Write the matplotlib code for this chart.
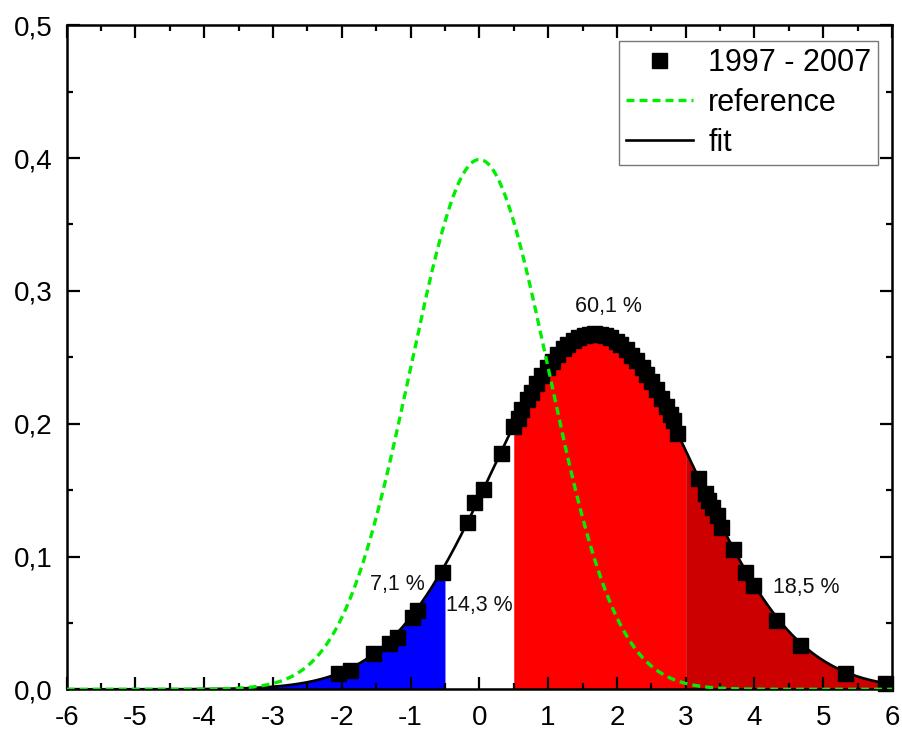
import numpy as np
import matplotlib
matplotlib.use("Agg")
import matplotlib.pyplot as plt
from matplotlib.ticker import MultipleLocator, FuncFormatter
from matplotlib.lines import Line2D

plt.rcParams['font.family'] = ['Liberation Sans', 'DejaVu Sans']

# ---- data ----
data_x = [-2.05, -1.88, -1.54, -1.32, -1.20, -0.98, -0.91, -0.55, -0.18, -0.08,
          0.05, 0.32, 0.49, 0.56,
          0.61, 0.69, 0.75, 0.83, 0.90, 0.98, 1.05, 1.13, 1.21, 1.28, 1.36,
          1.44, 1.52, 1.59, 1.67, 1.75, 1.82, 1.90, 1.98, 2.05, 2.13, 2.21,
          2.28, 2.36, 2.43, 2.50, 2.57, 2.64, 2.71, 2.77, 2.82,
          2.87, 3.18, 3.28, 3.33, 3.38, 3.45, 3.52, 3.69, 3.86, 3.98, 4.32,
          4.66, 5.32, 5.90]
data_y = [0.0120, 0.0145, 0.0270, 0.0347, 0.0397, 0.0547, 0.0598, 0.0886, 0.1260, 0.1410,
          0.1510, 0.1780, 0.1980, 0.2040,
          0.2107, 0.2184, 0.2239, 0.2308, 0.2365, 0.2425, 0.2474, 0.2524, 0.2567, 0.2600, 0.2630,
          0.2654, 0.2670, 0.2678, 0.2680, 0.2676, 0.2667, 0.2650, 0.2626, 0.2600, 0.2562, 0.2520,
          0.2478, 0.2424, 0.2372, 0.2318, 0.2258, 0.2196, 0.2132, 0.2075, 0.2025,
          0.1930, 0.1590, 0.1480, 0.1427, 0.1376, 0.1310, 0.1225, 0.1060, 0.0886, 0.0786, 0.0520,
          0.0334, 0.0120, 0.0045]

ref_mean = 0.0
ref_sd = 1.0

region_bounds = [-6.0, -0.5, 0.5, 3.0, 6.0]
region_colors = ['#0000ff', None, '#ff0000', '#cc0000']

pct_labels = ['7,1 %', '14,3 %', '60,1 %', '18,5 %']
pct_pos_x = [-1.19, 0.0, 1.88, 4.76]
pct_pos_y = [0.0787, 0.0628, 0.288, 0.0767]

legend_labels = ['1997 - 2007', 'reference', 'fit']

# ---- fit: gaussian from data (weighted quadratic fit of log y) ----
dx = np.array(data_x)
dy = np.array(data_y)
c2, c1, c0 = np.polyfit(dx, np.log(dy), 2, w=dy)
fit_sd = np.sqrt(-1.0 / (2 * c2))
fit_mu = c1 * fit_sd ** 2
fit_amp = np.exp(c0 + fit_mu ** 2 / (2 * fit_sd ** 2))

xs = np.linspace(-6, 6, 2401)
fit_y = fit_amp * np.exp(-(xs - fit_mu) ** 2 / (2 * fit_sd ** 2))
ref_y = np.exp(-(xs - ref_mean) ** 2 / (2 * ref_sd ** 2)) / (ref_sd * np.sqrt(2 * np.pi))

W, H = 903, 733
fig = plt.figure(figsize=(W / 100, H / 100), dpi=100)
L, R, T, B = 66.7, 892.0, 25.3, 689.3
ax = fig.add_axes([L / W, 1 - B / H, (R - L) / W, (B - T) / H])

GREEN = '#00ee00'
DASH = (2.4, 1.5)

# fills
for i, col in enumerate(region_colors):
    if col is None:
        continue
    lo, hi = region_bounds[i], region_bounds[i + 1]
    m = (xs >= lo) & (xs <= hi)
    ax.fill_between(xs[m], 0, fit_y[m], color=col, linewidth=0, zorder=1)

ax.plot(dx, dy, 's', color='black', markersize=10.8, zorder=3, clip_on=False)
ax.plot(xs, fit_y, '-', color='black', lw=1.9, zorder=4)
ref_line, = ax.plot(xs, ref_y, '--', color=GREEN, lw=2.4, zorder=5)
ref_line.set_dashes(DASH)

for t, px, py in zip(pct_labels, pct_pos_x, pct_pos_y):
    ax.text(px, py, t, ha='center', va='center', fontsize=15.5, color='#111111', zorder=6)

ax.set_xlim(-6, 6)
ax.set_ylim(0, 0.5)
ax.xaxis.set_major_locator(MultipleLocator(1))
ax.xaxis.set_minor_locator(MultipleLocator(0.5))
ax.yaxis.set_major_locator(MultipleLocator(0.1))
ax.yaxis.set_minor_locator(MultipleLocator(0.05))
ax.xaxis.set_major_formatter(FuncFormatter(lambda v, p: f"{int(round(v))}"))
ax.yaxis.set_major_formatter(FuncFormatter(lambda v, p: f"{v:.1f}".replace('.', ',')))
ax.tick_params(which='both', direction='in', top=True, right=True, width=1.6, labelsize=20)
ax.tick_params(which='major', length=9)
ax.tick_params(which='minor', length=4.5)
ax.tick_params(axis='x', which='major', pad=11)
ax.tick_params(axis='y', which='major', pad=10)
for s in ax.spines.values():
    s.set_linewidth(1.8)

handles = [
    Line2D([], [], marker='s', color='black', linestyle='none', markersize=10.8),
    Line2D([], [], color=GREEN, lw=2.4, linestyle=(0, DASH)),
    Line2D([], [], color='black', lw=1.9),
]
leg = ax.legend(handles, legend_labels, loc='upper right',
                bbox_to_anchor=(878 / W, 1 - 41 / H), bbox_transform=fig.transFigure,
                fontsize=22, frameon=True, fancybox=False, framealpha=1,
                edgecolor='#777777', borderpad=0.22, handlelength=2.2,
                handletextpad=0.5, labelspacing=0.33, borderaxespad=0)
leg.get_frame().set_linewidth(1.0)

fig.savefig('out.png', dpi=100)
